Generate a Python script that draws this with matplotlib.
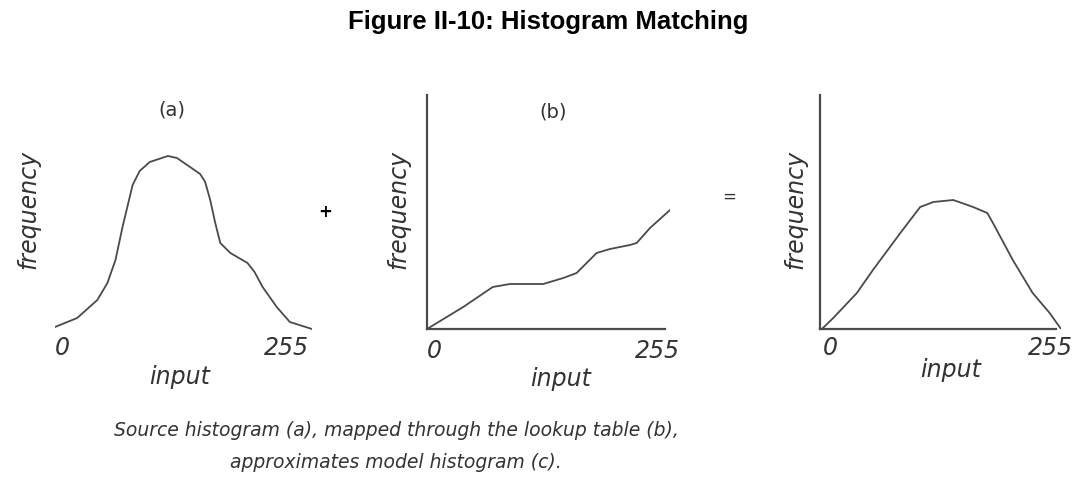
import matplotlib.pyplot as plt

# values (input 0-255, frequency in arbitrary units)
src_x = [0, 22, 42, 52, 60, 67, 77, 84, 94, 112, 121, 134, 144, 149, 154, 159,
         164, 174, 191, 198, 206, 220, 233, 255]
src_y = [5, 14, 32, 49, 72, 105, 147, 161, 170, 176, 174, 165, 158, 150, 132,
         109, 89, 79, 69, 60, 45, 25, 10, 3]

lut_x = [0, 38, 69, 87, 122, 143, 157, 178, 192, 213, 220, 234, 255]
lut_y = [0, 22, 42, 45, 45, 51, 56, 76, 80, 84, 86, 101, 119]

mod_x = [2, 14, 39, 56, 85, 106, 120, 141, 162, 177, 183, 204, 225, 243, 255]
mod_y = [0, 11, 36, 59, 96, 122, 127, 129, 122, 116, 106, 69, 36, 16, 0]

W, H = 1083, 483
line_col = '#4a4a4a'
text_col = '#333333'

fig = plt.figure(figsize=(W / 100, H / 100), dpi=100)


def rect(x0, x1, ytop, ybot):
    return [x0 / W, (H - ybot) / H, (x1 - x0) / W, (ybot - ytop) / H]


def ftext(x, y, s, **kw):
    kw.setdefault('color', text_col)
    fig.text(x / W, (H - y) / H, s, ha='center', va='center', **kw)


panels = [
    (src_x, src_y, rect(55, 312, 100, 332), 232, False),
    (lut_x, lut_y, rect(427, 670, 95, 329), 234, True),
    (mod_x, mod_y, rect(820, 1061, 95, 329), 234, True),
]

for xs, ys, r, ytop, show_axes in panels:
    ax = fig.add_axes(r)
    ax.plot(xs, ys, color=line_col, linewidth=1.3, solid_joinstyle='round')
    ax.set_xlim(0, 255)
    ax.set_ylim(0, ytop)
    ax.set_xticks([])
    ax.set_yticks([])
    ax.patch.set_alpha(0)
    for side in ['top', 'right']:
        ax.spines[side].set_visible(False)
    if show_axes:
        for side in ['left', 'bottom']:
            ax.spines[side].set_color(line_col)
            ax.spines[side].set_linewidth(1.6)
        ax.spines['bottom'].set_bounds(0, 250)
    else:
        ax.spines['left'].set_visible(False)
        ax.spines['bottom'].set_visible(False)

ifont = dict(family='DejaVu Sans', style='italic', fontsize=17)

# axis texts
for x0, x255, y_tick, x_in, y_in, x_fr in [(62, 286, 348, 180, 377, 28),
                                          (434, 657, 351, 561, 379, 398),
                                          (830, 1050, 348, 951, 370, 795)]:
    ftext(x0, y_tick, '0', **ifont)
    ftext(x255, y_tick, '255', **ifont)
    ftext(x_in, y_in, 'input', **ifont)
    ftext(x_fr, 209, 'frequency', rotation=90, **ifont)

ftext(172, 110, '(a)', family='DejaVu Sans', fontsize=14)
ftext(553, 112, '(b)', family='DejaVu Sans', fontsize=14)
ftext(325, 212, '+', family='DejaVu Sans', fontsize=12, fontweight='bold',
      color='black')
ftext(729, 197, '=', family='DejaVu Sans', fontsize=12)

ftext(548, 22, 'Figure II-10: Histogram Matching', family='Liberation Sans',
      fontsize=18.5, fontweight='bold', color='black')

ftext(396, 430, 'Source histogram (a), mapped through the lookup table (b),',
      family='DejaVu Sans', style='italic', fontsize=13.5)
ftext(396, 462, 'approximates model histogram (c).',
      family='DejaVu Sans', style='italic', fontsize=13.5)

fig.savefig('out.png', dpi=100, facecolor='white')
